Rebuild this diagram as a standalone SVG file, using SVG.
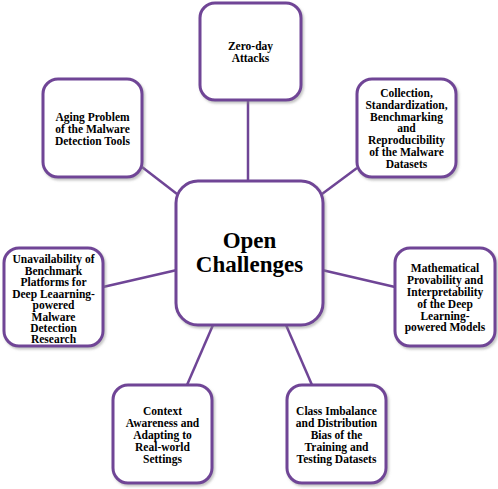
<svg xmlns="http://www.w3.org/2000/svg" width="498" height="489" viewBox="0 0 498 489">
<defs>
<filter id="sh" x="-10%" y="-10%" width="125%" height="125%">
<feDropShadow dx="1.5" dy="2" stdDeviation="1.2" flood-color="#888" flood-opacity="0.5"/>
</filter>
<style>
.box{fill:#fff;stroke:#6f4596;stroke-width:3;filter:url(#sh)}
.c{stroke:#6f4596;stroke-width:2.5;fill:none}
text{font-family:"Liberation Serif","Times New Roman",serif;font-weight:bold;fill:#000;text-anchor:middle}
.s{font-size:11.5px}
.big{font-size:23px}
</style>
</defs>
<rect width="498" height="489" fill="#fff"/>
<g id="connectors">
<line class="c" x1="248" y1="100" x2="248" y2="181"/>
<line class="c" x1="142" y1="167" x2="177" y2="194"/>
<line class="c" x1="357" y1="168" x2="322" y2="194"/>
<line class="c" x1="103" y1="287" x2="177" y2="270"/>
<line class="c" x1="322" y1="270" x2="395" y2="287"/>
<line class="c" x1="187" y1="385" x2="213" y2="325"/>
<line class="c" x1="312" y1="385" x2="286" y2="325"/>
</g>
<g id="center">
<rect class="box" x="176" y="181" width="147" height="144" rx="22"/>
<text class="big" x="249.5" y="248">Open</text>
<text class="big" x="249.5" y="272">Challenges</text>
</g>
<g id="zeroday">
<rect class="box" x="200" y="3" width="101" height="97" rx="15"/>
<text class="s" x="250.5" y="50">Zero-day</text>
<text class="s" x="250.5" y="62">Attacks</text>
</g>
<g id="aging">
<rect class="box" x="43" y="79" width="99" height="98" rx="15"/>
<text class="s" x="92.5" y="121">Aging Problem</text>
<text class="s" x="92.5" y="133">of the Malware</text>
<text class="s" x="92.5" y="145">Detection Tools</text>
</g>
<g id="collection">
<rect class="box" x="357" y="79" width="99" height="98" rx="15"/>
<text class="s" x="406.5" y="97">Collection,</text>
<text class="s" x="406.5" y="109">Standardization,</text>
<text class="s" x="406.5" y="121">Benchmarking</text>
<text class="s" x="406.5" y="132">and</text>
<text class="s" x="406.5" y="144">Reproducibility</text>
<text class="s" x="406.5" y="156">of the Malware</text>
<text class="s" x="406.5" y="168">Datasets</text>
</g>
<g id="unavailability">
<rect class="box" x="4" y="248" width="99" height="98" rx="15"/>
<text class="s" x="53.5" y="263">Unavailability  of</text>
<text class="s" x="53.5" y="275">Benchmark</text>
<text class="s" x="53.5" y="286">Platforms for</text>
<text class="s" x="53.5" y="298">Deep Leaarning-</text>
<text class="s" x="53.5" y="309">powered</text>
<text class="s" x="53.5" y="321">Malware</text>
<text class="s" x="53.5" y="332">Detection</text>
<text class="s" x="53.5" y="343">Research</text>
</g>
<g id="mathematical">
<rect class="box" x="395" y="248" width="100" height="98" rx="15"/>
<text class="s" x="445" y="272">Mathematical</text>
<text class="s" x="445" y="284">Provability and</text>
<text class="s" x="445" y="296">Interpretability</text>
<text class="s" x="445" y="308">of the Deep</text>
<text class="s" x="445" y="320">Learning-</text>
<text class="s" x="445" y="331">powered Models</text>
</g>
<g id="context">
<rect class="box" x="113" y="385" width="99" height="98" rx="15"/>
<text class="s" x="162.5" y="415">Context</text>
<text class="s" x="162.5" y="427">Awareness and</text>
<text class="s" x="162.5" y="439">Adapting to</text>
<text class="s" x="162.5" y="451">Real-world</text>
<text class="s" x="162.5" y="463">Settings</text>
</g>
<g id="classimbalance">
<rect class="box" x="287" y="385" width="99" height="98" rx="15"/>
<text class="s" x="336.5" y="415">Class Imbalance</text>
<text class="s" x="336.5" y="427">and Distribution</text>
<text class="s" x="336.5" y="439">Bias of the</text>
<text class="s" x="336.5" y="451">Training and</text>
<text class="s" x="336.5" y="463">Testing Datasets</text>
</g>
</svg>
